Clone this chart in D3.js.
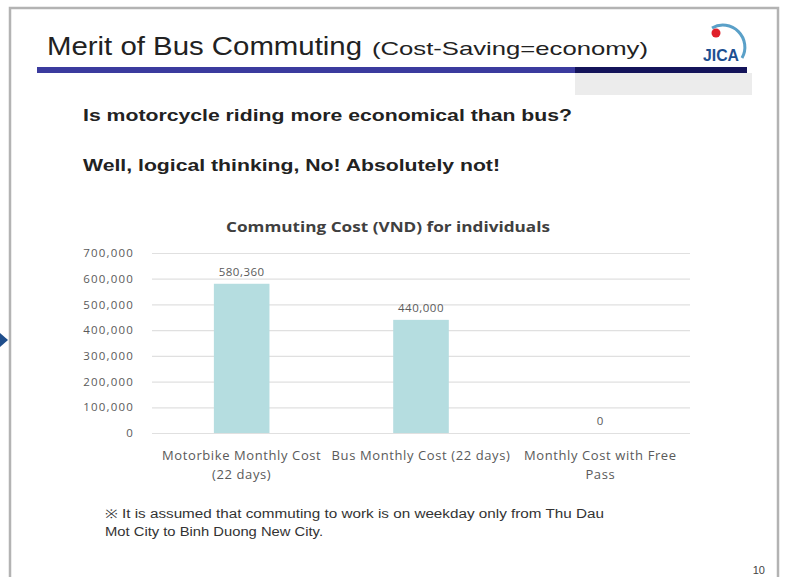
<!DOCTYPE html>
<html>
<head>
<meta charset="utf-8">
<script src="https://cdn.jsdelivr.net/npm/d3@7"></script>
<style>
  body { margin: 0; background: #fff; }
  svg { display: block; }
</style>
</head>
<body>
<svg id="slide" width="791" height="577"></svg>
<script>
// chart data
var categories = ["Motorbike Monthly Cost (22 days)", "Bus Monthly Cost (22 days)", "Monthly Cost with Free Pass"];
var catLines = [["Motorbike Monthly Cost", "(22 days)"], ["Bus Monthly Cost (22 days)"], ["Monthly Cost with Free", "Pass"]];
var costs = [580360, 440000, 0];
var yTicks = [0, 100000, 200000, 300000, 400000, 500000, 600000, 700000];

var svg = d3.select("#slide");

// slide frame
svg.append("rect")
  .attr("x", 10).attr("y", 8).attr("width", 768).attr("height", 590)
  .attr("fill", "none").attr("stroke", "#b3b3b3").attr("stroke-width", 2.5);

// little arrow at left edge
svg.append("path")
  .attr("d", "M0,333 L8,340 L0,347 Z")
  .attr("fill", "#1f4e8c");

// header
svg.append("text")
  .attr("x", 47).attr("y", 55)
  .attr("font-family", "Liberation Sans, Arial, sans-serif")
  .attr("font-size", 25).attr("fill", "#222")
  .attr("textLength", 315).attr("lengthAdjust", "spacingAndGlyphs")
  .text("Merit of Bus Commuting");
svg.append("text")
  .attr("x", 372).attr("y", 55)
  .attr("font-family", "Liberation Sans, Arial, sans-serif")
  .attr("font-size", 19).attr("fill", "#222")
  .attr("textLength", 276).attr("lengthAdjust", "spacingAndGlyphs")
  .text("(Cost-Saving=economy)");

svg.append("rect").attr("x", 575).attr("y", 73).attr("width", 177).attr("height", 22).attr("fill", "#ececec");
svg.append("rect").attr("x", 37).attr("y", 67).attr("width", 710).attr("height", 6).attr("fill", "#3b3b9e");
svg.append("rect").attr("x", 575).attr("y", 67).attr("width", 172).attr("height", 6).attr("fill", "#14145a");

// JICA logo
var logo = svg.append("g");
logo.append("path")
  .attr("d", "M712,28 A22,22 0 0 1 742,58")
  .attr("fill", "none").attr("stroke", "#5aa0c8").attr("stroke-width", 3);
logo.append("circle").attr("cx", 716).attr("cy", 33).attr("r", 4.5).attr("fill", "#e0202a");
logo.append("text")
  .attr("x", 721).attr("y", 61).attr("text-anchor", "middle")
  .attr("font-family", "Liberation Sans, Arial, sans-serif")
  .attr("font-weight", "bold").attr("font-size", 17).attr("fill", "#1d4f91")
  .attr("textLength", 36).attr("lengthAdjust", "spacingAndGlyphs")
  .text("JICA");

// questions
svg.append("text")
  .attr("x", 83).attr("y", 121)
  .attr("font-family", "Liberation Sans, Arial, sans-serif")
  .attr("font-weight", "bold").attr("font-size", 17).attr("fill", "#222")
  .attr("textLength", 489).attr("lengthAdjust", "spacingAndGlyphs")
  .text("Is motorcycle riding more economical than bus?");
svg.append("text")
  .attr("x", 83).attr("y", 171)
  .attr("font-family", "Liberation Sans, Arial, sans-serif")
  .attr("font-weight", "bold").attr("font-size", 17).attr("fill", "#222")
  .attr("textLength", 417).attr("lengthAdjust", "spacingAndGlyphs")
  .text("Well, logical thinking, No! Absolutely not!");

// chart
var plot = { left: 152, right: 690, top: 253, bottom: 433 };
var chartFont = "Open Sans, Noto Sans, sans-serif";

svg.append("text")
  .attr("x", 388).attr("y", 232).attr("text-anchor", "middle")
  .attr("font-family", chartFont).attr("font-weight", "bold")
  .attr("font-size", 14).attr("fill", "#404040")
  .attr("textLength", 324).attr("lengthAdjust", "spacingAndGlyphs")
  .text("Commuting Cost (VND) for individuals");

var x = d3.scaleBand()
  .domain(categories)
  .range([plot.left, plot.right])
  .paddingInner(0.69)
  .paddingOuter(0.345);

var y = d3.scaleLinear()
  .domain([0, 700000])
  .range([plot.bottom, plot.top]);

// gridlines
var grid = svg.append("g")
  .attr("transform", "translate(" + plot.left + ",0)")
  .call(d3.axisRight(y).tickValues(yTicks).tickSize(plot.right - plot.left).tickFormat(""));
grid.select(".domain").remove();
grid.selectAll(".tick line").attr("stroke", "#e0e0e0").attr("stroke-width", 1.2);

// y axis labels
var yAxis = svg.append("g")
  .attr("transform", "translate(" + 134 + ",0)")
  .call(d3.axisLeft(y).tickValues(yTicks).tickSize(0).tickFormat(d3.format(",")));
yAxis.select(".domain").remove();
yAxis.selectAll(".tick text")
  .attr("x", 0)
  .attr("font-family", chartFont).attr("font-size", 11.5).attr("fill", "#5a5a5a")
  .attr("letter-spacing", 1.2);

// bars
svg.selectAll(".bar")
  .data(costs)
  .enter()
  .append("rect")
  .attr("class", "bar")
  .attr("x", function (d, i) { return x(categories[i]); })
  .attr("y", function (d) { return y(d); })
  .attr("width", x.bandwidth())
  .attr("height", function (d) { return y(0) - y(d); })
  .attr("fill", "#b5dde0");

// value labels
svg.selectAll(".val")
  .data(costs)
  .enter()
  .append("text")
  .attr("class", "val")
  .attr("x", function (d, i) { return x(categories[i]) + x.bandwidth() / 2; })
  .attr("y", function (d) { return y(d) - 8; })
  .attr("text-anchor", "middle")
  .attr("font-family", chartFont).attr("font-size", 11.5).attr("fill", "#5a5a5a")
  .attr("letter-spacing", 0.5)
  .text(d3.format(","));

// category labels
var xl = svg.selectAll(".cat")
  .data(catLines)
  .enter()
  .append("text")
  .attr("class", "cat")
  .attr("text-anchor", "middle")
  .attr("font-family", chartFont).attr("font-size", 13).attr("fill", "#5a5a5a")
  .attr("letter-spacing", 0.6)
  .attr("transform", function (d, i) {
    return "translate(" + (x(categories[i]) + x.bandwidth() / 2) + ",460)";
  });
xl.selectAll("tspan")
  .data(function (d) { return d; })
  .enter()
  .append("tspan")
  .attr("x", 0)
  .attr("dy", function (d, j) { return j === 0 ? 0 : 19; })
  .text(function (d) { return d; });

// footnote
var noteFont = "Liberation Sans Narrow, Arial Narrow, Liberation Sans, sans-serif";
svg.append("text")
  .attr("x", 105).attr("y", 518)
  .attr("font-family", noteFont).attr("font-size", 12).attr("fill", "#333")
  .attr("textLength", 499).attr("lengthAdjust", "spacingAndGlyphs")
  .text("\u203B  It is assumed that commuting to work is on weekday only from Thu Dau");
svg.append("text")
  .attr("x", 105).attr("y", 536)
  .attr("font-family", noteFont).attr("font-size", 12).attr("fill", "#333")
  .attr("textLength", 218).attr("lengthAdjust", "spacingAndGlyphs")
  .text("Mot City to Binh Duong New City.");

// page number
svg.append("text")
  .attr("x", 765).attr("y", 574).attr("text-anchor", "end")
  .attr("font-family", "Liberation Sans, Arial, sans-serif")
  .attr("font-size", 11).attr("fill", "#444")
  .text("10");
</script>
</body>
</html>
